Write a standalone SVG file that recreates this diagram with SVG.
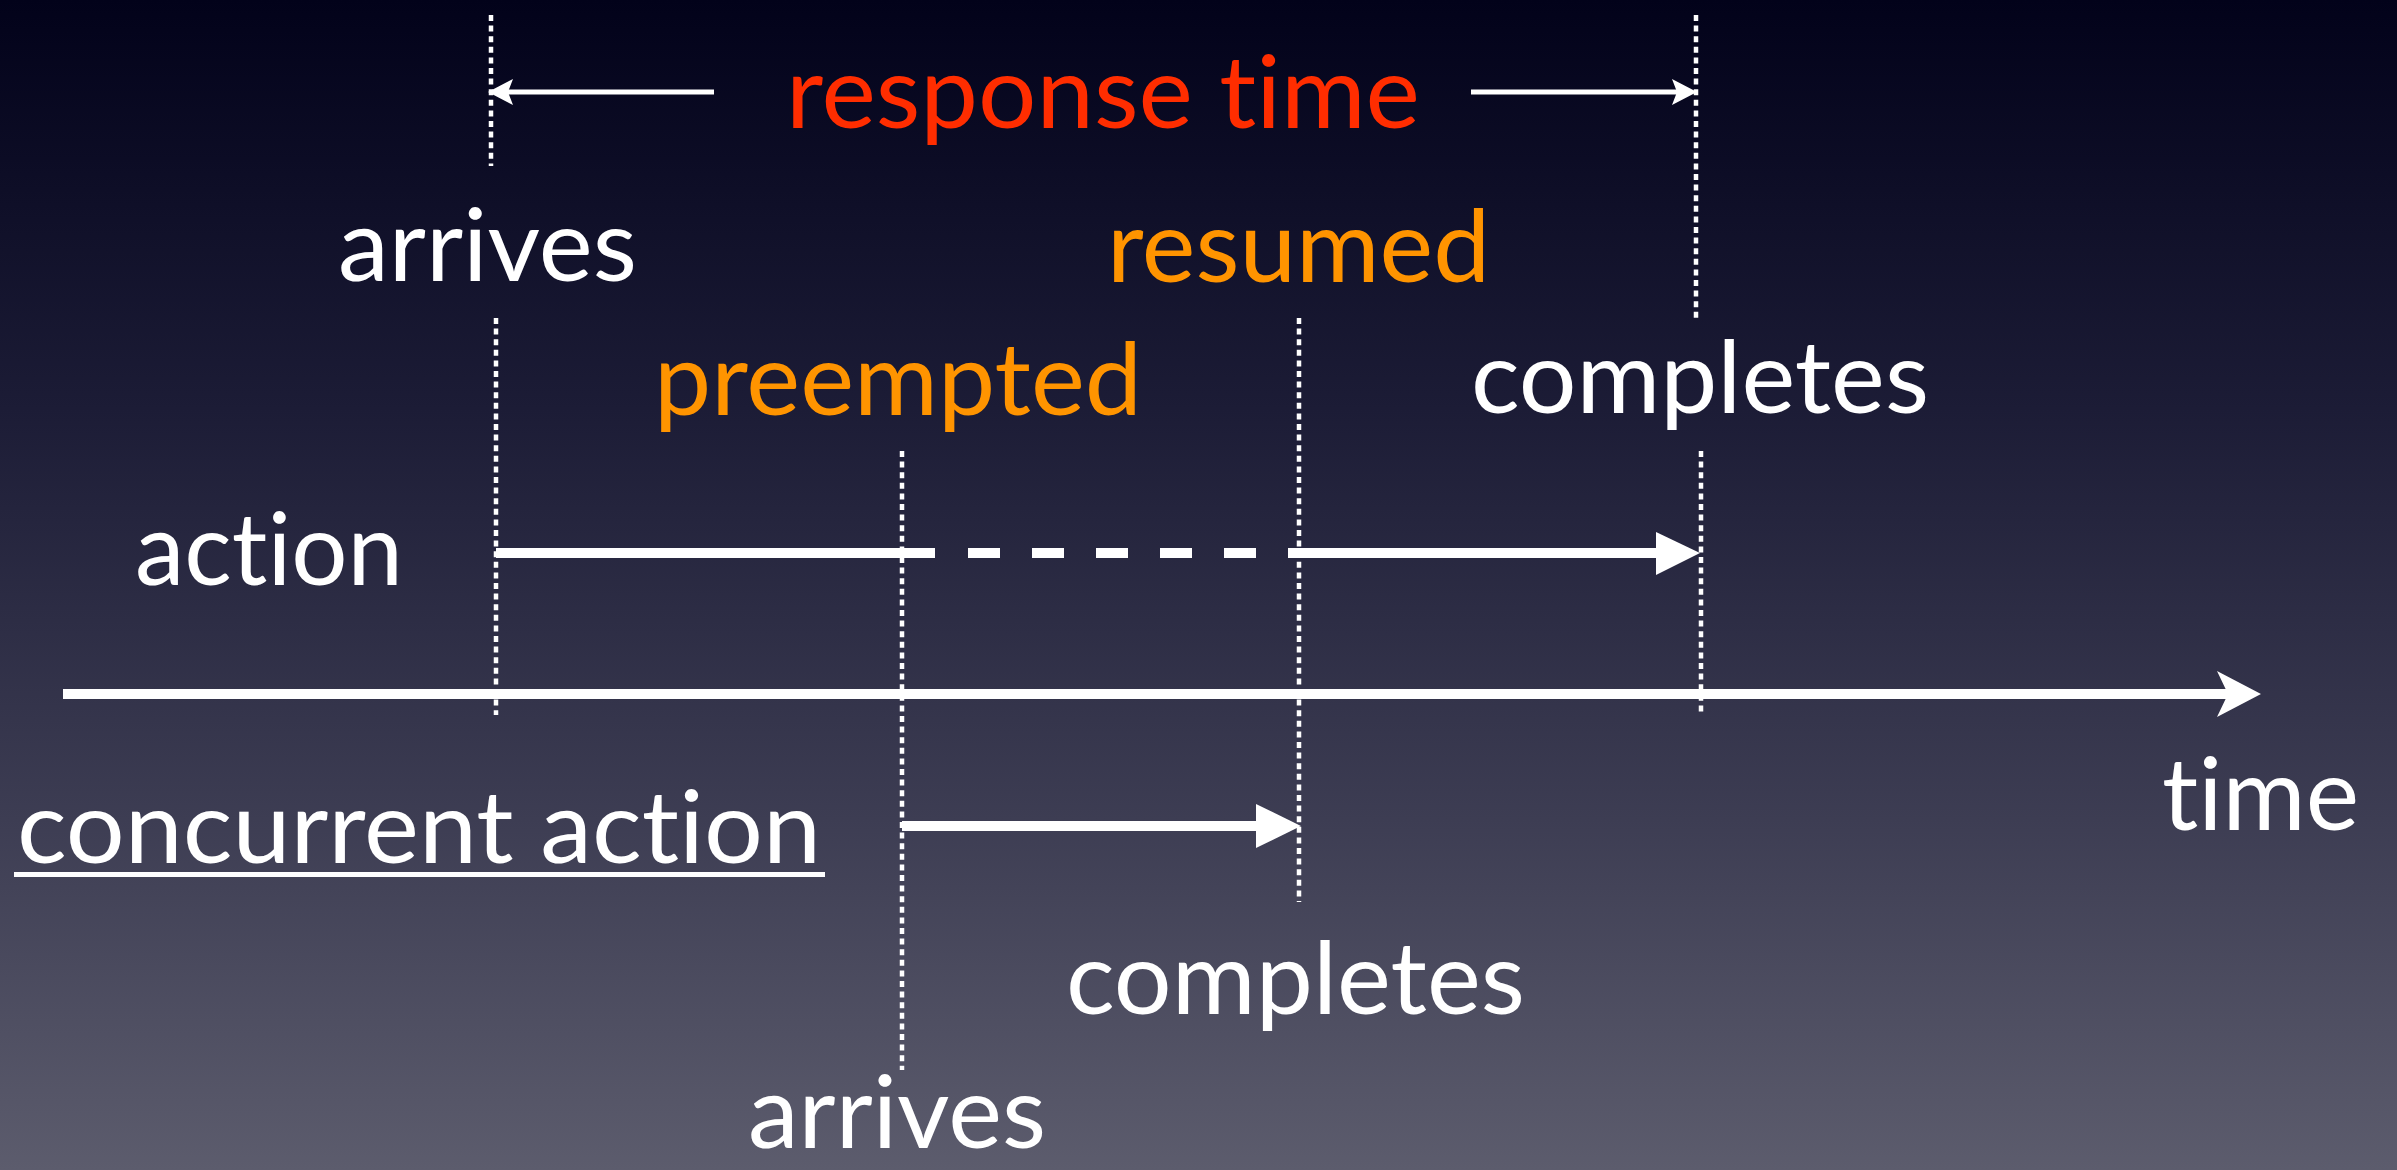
<svg xmlns="http://www.w3.org/2000/svg" width="2397" height="1170" viewBox="0 0 2397 1170">
  <defs>
    <linearGradient id="bg" x1="0" y1="0" x2="0" y2="1">
      <stop offset="0" stop-color="#02021a"/>
      <stop offset="0.35" stop-color="#1c1c36"/>
      <stop offset="0.7" stop-color="#3d3d53"/>
      <stop offset="1" stop-color="#5c5c6d"/>
    </linearGradient>
    <style>
      .lbl { font-family: Lato, "Open Sans", "Liberation Sans", sans-serif; font-size: 100px; font-variant-ligatures: none; font-feature-settings: "liga" 0, "clig" 0; }
      .w { fill: #ffffff; }
      .red { fill: #ff2d00; }
      .org { fill: #ff9400; }
      .dot { stroke: #ffffff; stroke-width: 4.5; stroke-dasharray: 6 4.6; fill: none; }
      .thick { stroke: #ffffff; stroke-width: 10; fill: none; }
      .thin { stroke: #ffffff; stroke-width: 5; fill: none; }
      .head { fill: #ffffff; }
    </style>
  </defs>
  <rect x="0" y="0" width="2397" height="1170" fill="url(#bg)"/>

  <g id="connectors">
    <!-- dotted markers -->
    <line class="dot" x1="491" y1="15" x2="491" y2="166"/>
    <line class="dot" x1="496" y1="318" x2="496" y2="715"/>
    <line class="dot" x1="902" y1="451" x2="902" y2="1070"/>
    <line class="dot" x1="1299" y1="318" x2="1299" y2="902"/>
    <line class="dot" x1="1696" y1="15" x2="1696" y2="318"/>
    <line class="dot" x1="1701" y1="451" x2="1701" y2="715"/>

    <!-- response time arrows -->
    <line class="thin" x1="714" y1="92" x2="506" y2="92"/>
    <path class="head" d="M488,92 L513,79 L508,92 L513,105 Z"/>
    <line class="thin" x1="1471" y1="92" x2="1679" y2="92"/>
    <path class="head" d="M1697,92 L1672,79 L1677,92 L1672,105 Z"/>

    <!-- action arrow -->
    <line class="thick" x1="496" y1="553" x2="935" y2="553"/>
    <line class="thick" x1="968" y1="553" x2="1256" y2="553" stroke-dasharray="32 32"/>
    <line class="thick" x1="1288" y1="553" x2="1660" y2="553"/>
    <path class="head" d="M1656,532 L1700,553 L1656,575 Z"/>

    <!-- time axis -->
    <line class="thick" x1="63" y1="694" x2="2232" y2="694"/>
    <path class="head" d="M2261,694 L2217,671 L2228,694 L2217,717 Z"/>

    <!-- concurrent action arrow -->
    <line class="thick" x1="902" y1="826" x2="1260" y2="826"/>
    <path class="head" d="M1256,804 L1301,826 L1256,848 Z"/>
  </g>

  <g id="response-time"><text class="lbl red" x="786" y="128" textLength="634" lengthAdjust="spacingAndGlyphs">response time</text></g>
  <g id="arrives-action"><text class="lbl w" x="338" y="281" textLength="299" lengthAdjust="spacingAndGlyphs">arrives</text></g>
  <g id="resumed"><text class="lbl org" x="1107" y="282" textLength="383" lengthAdjust="spacingAndGlyphs">resumed</text></g>
  <g id="preempted"><text class="lbl org" x="654" y="415" textLength="488" lengthAdjust="spacingAndGlyphs">preempted</text></g>
  <g id="completes-action"><text class="lbl w" x="1471" y="413" textLength="458" lengthAdjust="spacingAndGlyphs">completes</text></g>
  <g id="action"><text class="lbl w" x="135" y="585" textLength="268" lengthAdjust="spacingAndGlyphs">action</text></g>
  <g id="concurrent-action">
    <text class="lbl w" x="17" y="863" textLength="804" lengthAdjust="spacingAndGlyphs">concurrent action</text>
    <rect x="14" y="872" width="811" height="5" fill="#ffffff"/>
  </g>
  <g id="time"><text class="lbl w" x="2162" y="830" textLength="197" lengthAdjust="spacingAndGlyphs">time</text></g>
  <g id="completes-concurrent"><text class="lbl w" x="1066" y="1014" textLength="459" lengthAdjust="spacingAndGlyphs">completes</text></g>
  <g id="arrives-concurrent"><text class="lbl w" x="748" y="1148" textLength="298" lengthAdjust="spacingAndGlyphs">arrives</text></g>
</svg>
